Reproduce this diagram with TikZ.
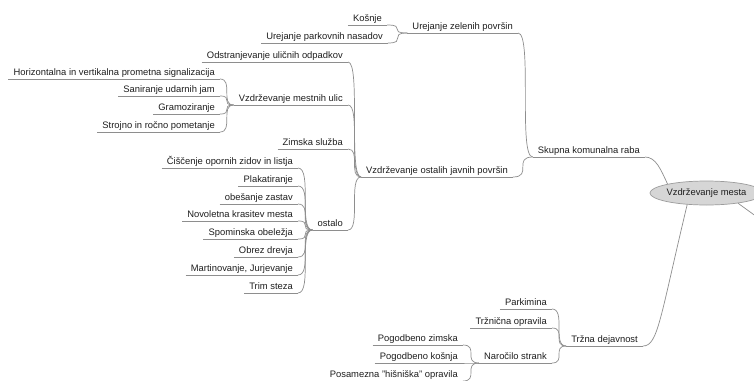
\documentclass[tikz,border=0pt]{standalone}
\usepackage{fontspec}
\setmainfont{Liberation Sans}
\usetikzlibrary{shapes.geometric}
\definecolor{edgecol}{HTML}{8E8E8E}
\definecolor{txtcol}{HTML}{1E1E1E}
\definecolor{rootfill}{HTML}{D6D6D6}
\definecolor{rootdraw}{HTML}{9C9C9C}
\tikzset{
  lbl/.style={font=\fontsize{9.4}{11}\selectfont, text=txtcol, inner xsep=5pt, inner ysep=0pt,
    text height=7pt, text depth=3pt, anchor=south east,
    append after command={(\tikzlastnode.south west) edge[uline] (\tikzlastnode.south east)}},
  uline/.style={draw=edgecol, line width=0.7pt},
  edgeline/.style={draw=edgecol, line width=0.7pt},
  rootnode/.style={ellipse, draw=rootdraw, fill=rootfill, line width=0.7pt, minimum width=95pt,
    minimum height=24pt, inner sep=0pt, font=\fontsize{9.4}{11}\selectfont, text=txtcol}
}
\newcommand\mmlink[2]{\draw[edgeline] (#1.south west) .. controls (#1.south west -| #2.south east) and (#2.south east -| #1.south west) .. (#2.south east);}
\begin{document}
\begin{tikzpicture}[x=1pt,y=-1pt]
\useasboundingbox (0,0) rectangle (754,380);
\clip (0,0) rectangle (754,380);
\fill[white] (0,0) rectangle (754,380);

\node[rootnode] (root) at (706.5,193) {Vzdrževanje mesta};

\node[lbl] (skupna) at (645,157) {Skupna komunalna raba};
\node[lbl] (zelenih) at (518,33) {Urejanje zelenih površin};
\node[lbl] (kosnje) at (387,25) {Košnje};
\node[lbl] (parkovnih) at (388,43) {Urejanje parkovnih nasadov};
\node[lbl] (ostalih) at (513,177) {Vzdrževanje ostalih javnih površin};
\node[lbl] (odpadkov) at (348,62) {Odstranjevanje uličnih odpadkov};
\node[lbl] (ulic) at (348,105) {Vzdrževanje mestnih ulic};
\node[lbl] (zimska) at (348,149) {Zimska služba};
\node[lbl] (ostalo) at (348,230) {ostalo};
\node[lbl] (horiz) at (220,79) {Horizontalna in vertikalna prometna signalizacija};
\node[lbl] (sanir) at (220,96) {Saniranje udarnih jam};
\node[lbl] (gramoz) at (220,114) {Gramoziranje};
\node[lbl] (strojno) at (220,132) {Strojno in ročno pometanje};
\node[lbl] (cisc) at (298,168) {Čiščenje opornih zidov in listja};
\node[lbl] (plakat) at (298,186) {Plakatiranje};
\node[lbl] (obes) at (298,204) {obešanje zastav};
\node[lbl] (novol) at (298,221) {Novoletna krasitev mesta};
\node[lbl] (spom) at (298,239) {Spominska obeležja};
\node[lbl] (obrez) at (298,257) {Obrez drevja};
\node[lbl] (martin) at (298,275) {Martinovanje, Jurjevanje};
\node[lbl] (trim) at (298,293) {Trim steza};
\node[lbl] (trzna) at (643,346) {Tržna dejavnost};
\node[lbl] (parkim) at (552,309) {Parkimina};
\node[lbl] (trznic) at (552,328) {Tržnična opravila};
\node[lbl] (narocilo) at (552,363) {Naročilo strank};
\node[lbl] (pzimska) at (463,345) {Pogodbeno zimska};
\node[lbl] (pkosnja) at (463,363) {Pogodbeno košnja};
\node[lbl] (posam) at (463,381) {Posamezna "hišniška" opravila};

% root connectors
\draw[edgeline] (root.167) .. controls (661,170) and (656,157) .. (skupna.south east);
\draw[edgeline] (root.211) .. controls (660,318) and (658,346) .. (trzna.south east);
\coordinate (offright) at (757,217);
\draw[edgeline] (root.-18) -- (offright);

% branch connectors
\mmlink{skupna}{zelenih}
\mmlink{skupna}{ostalih}
\mmlink{zelenih}{kosnje}
\mmlink{zelenih}{parkovnih}
\mmlink{ostalih}{odpadkov}
\mmlink{ostalih}{ulic}
\mmlink{ostalih}{zimska}
\mmlink{ostalih}{ostalo}
\mmlink{ulic}{horiz}
\mmlink{ulic}{sanir}
\mmlink{ulic}{gramoz}
\mmlink{ulic}{strojno}
\mmlink{ostalo}{cisc}
\mmlink{ostalo}{plakat}
\mmlink{ostalo}{obes}
\mmlink{ostalo}{novol}
\mmlink{ostalo}{spom}
\mmlink{ostalo}{obrez}
\mmlink{ostalo}{martin}
\mmlink{ostalo}{trim}
\mmlink{trzna}{parkim}
\mmlink{trzna}{trznic}
\mmlink{trzna}{narocilo}
\mmlink{narocilo}{pzimska}
\mmlink{narocilo}{pkosnja}
\mmlink{narocilo}{posam}
\end{tikzpicture}
\end{document}
